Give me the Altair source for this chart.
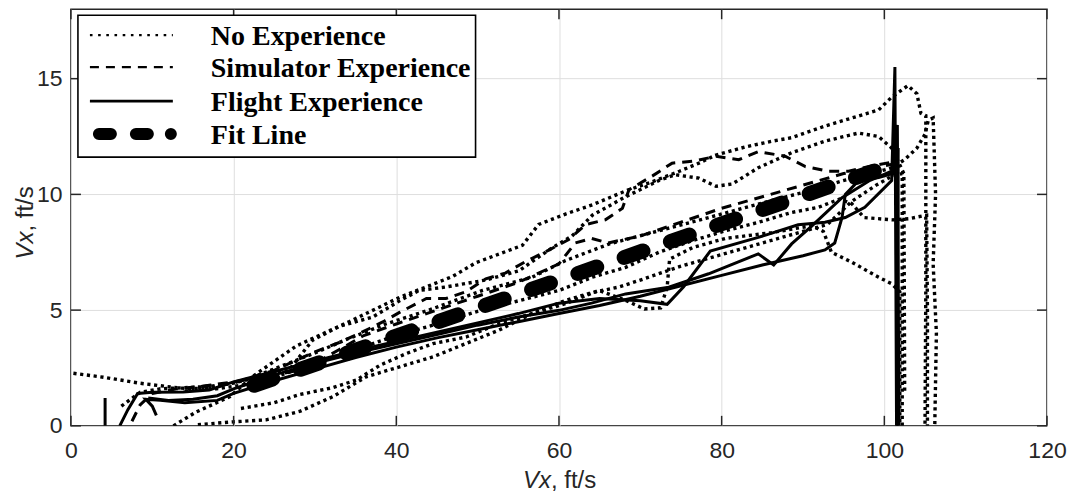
import altair as alt
import pandas as pd

# ---------------- data ----------------
X_TICKS = [0, 20, 40, 60, 80, 100, 120]
Y_TICKS = [0, 5, 10, 15]
LEGEND_LABELS = ["No Experience", "Simulator Experience", "Flight Experience", "Fit Line"]

# No Experience (dotted)
NOEXP_A_X = [12.6, 15.4, 19.5, 22.4, 27.7, 34.2, 40.4, 46.9, 49.8, 55.5, 57.5, 60.8, 64.1, 68.2, 71.5, 74.8, 77.2, 79.3, 82.9, 86.2, 88.6, 92.7, 96.0, 99.3, 100.9, 102.9, 104.0, 104.5, 105.1, 105.1, 105.0]
NOEXP_A_Y = [0.0, 0.6, 1.25, 2.15, 3.45, 4.5, 5.55, 6.45, 7.05, 7.8, 8.7, 9.15, 9.55, 10.15, 10.55, 11.0, 11.35, 11.7, 12.05, 12.3, 12.45, 12.95, 13.3, 13.65, 14.2, 14.7, 14.35, 13.5, 13.4, 6.0, 0.0]
NOEXP_B_X = [6.2, 8.5, 11.0, 14.0, 17.0, 20.0, 23.0, 26.9, 29.7, 33.0, 37.1, 40.4, 42.8, 46.1, 51.0, 55.1, 56.7, 59.2, 61.6, 64.1, 68.2, 72.3, 74.3, 77.2, 79.3, 81.3, 84.5, 88.6, 92.7, 96.8, 99.3, 100.9, 102.0, 102.4, 102.5]
NOEXP_B_Y = [0.85, 1.45, 1.6, 1.65, 1.7, 1.85, 2.1, 2.45, 3.7, 4.3, 4.7, 5.4, 5.85, 6.0, 6.3, 6.7, 7.1, 7.7, 8.2, 9.1, 9.9, 10.6, 10.85, 10.7, 10.35, 10.45, 11.15, 11.8, 12.3, 12.65, 12.5, 12.0, 11.2, 10.9, 1.4]
NOEXP_C_X = [0.3, 4.0, 8.5, 13.4, 17.9, 21.0, 25.0, 30.0, 35.0, 40.0, 45.0, 50.0, 55.0, 60.0, 64.1, 68.2, 72.3, 76.4, 80.5, 84.5, 88.6, 91.9, 94.5, 96.0, 97.5, 101.0, 103.0, 105.2, 105.3, 105.3]
NOEXP_C_Y = [2.27, 2.1, 1.84, 1.63, 1.6, 1.75, 2.1, 2.7, 3.3, 3.9, 4.4, 4.95, 5.4, 5.85, 6.42, 6.85, 7.5, 8.0, 8.43, 8.79, 9.22, 9.44, 9.8, 9.6, 9.0, 8.9, 8.95, 9.1, 5.0, 0.0]
NOEXP_D_X = [14.0, 18.0, 22.0, 26.0, 30.0, 34.0, 38.7, 44.0, 50.6, 56.7, 60.8, 66.2, 72.3, 78.4, 84.5, 90.7, 94.8, 98.9, 100.9, 102.5, 104.0, 105.0, 105.4, 106.0, 106.3, 106.0, 106.4, 106.2]
NOEXP_D_Y = [1.5, 1.7, 2.05, 2.6, 3.15, 3.75, 4.4, 5.0, 5.85, 6.42, 7.14, 7.86, 8.43, 9.0, 9.58, 10.15, 10.58, 10.94, 11.15, 11.5, 12.0, 12.6, 13.2, 13.3, 10.0, 7.0, 4.0, 0.0]
NOEXP_E_X = [20.9, 25.0, 28.1, 32.2, 35.1, 38.0, 41.2, 44.5, 48.6, 52.6, 56.7, 60.8, 64.9, 68.0, 70.5, 72.5, 73.3, 73.6, 76.4, 80.5, 86.2, 91.1, 92.5, 93.5, 96.0, 99.3, 100.9, 101.9, 101.9]
NOEXP_E_Y = [0.75, 1.0, 1.35, 1.65, 1.98, 2.62, 3.12, 3.55, 3.84, 4.42, 4.85, 5.28, 5.85, 5.45, 5.05, 5.1, 6.0, 7.2, 7.7, 8.1, 8.35, 8.65, 8.4, 7.5, 7.07, 6.42, 6.14, 5.8, 0.0]
NOEXP_F_X = [15.6, 19.9, 24.0, 28.1, 32.2, 36.3, 40.4, 44.5, 48.6, 52.6, 56.7, 60.8, 64.0, 67.4, 70.0, 75.0, 80.0, 85.0, 90.0, 93.0, 96.0, 99.0, 101.0, 102.2, 102.2]
NOEXP_F_Y = [0.05, 0.17, 0.26, 0.62, 1.26, 2.12, 2.55, 2.98, 3.56, 4.13, 4.85, 5.42, 5.75, 6.0, 6.3, 6.9, 7.4, 7.9, 8.4, 8.7, 9.7, 10.4, 10.8, 10.9, 0.0]

# Simulator Experience (dashed)
SIM_A_X = [7.5, 8.5, 10.0, 13.0, 16.0, 20.0, 25.0, 30.0, 33.0, 35.5, 38.4, 40.4, 43.7, 46.1, 48.6, 51.0, 53.4, 55.9, 58.8, 61.2, 63.3, 65.7, 67.8, 68.6, 71.5, 73.9, 76.8, 79.3, 82.1, 84.5, 87.8, 90.3, 93.1, 95.6, 98.0, 101.0]
SIM_A_Y = [0.2, 0.9, 1.4, 1.6, 1.7, 1.85, 2.4, 3.2, 3.6, 4.0, 4.5, 4.9, 5.5, 5.5, 5.8, 6.35, 6.6, 7.1, 7.6, 8.05, 8.7, 8.9, 9.4, 10.2, 10.8, 11.35, 11.45, 11.65, 11.5, 11.85, 11.65, 11.2, 11.0, 11.0, 11.2, 11.4]
SIM_B_X = [16.0, 20.0, 25.0, 28.0, 30.0, 33.0, 36.0, 40.0, 45.0, 50.0, 55.0, 60.0, 62.0, 64.0, 66.0, 70.0, 75.0, 80.0, 85.0, 90.0, 95.0, 101.0]
SIM_B_Y = [1.7, 1.9, 2.2, 2.4, 2.7, 3.3, 3.9, 4.4, 5.0, 5.6, 6.2, 7.0, 7.9, 8.1, 7.9, 8.2, 8.8, 9.4, 9.9, 10.4, 10.9, 11.3]

# Flight Experience (solid)
FLT_A_X = [4.2, 4.2]
FLT_A_Y = [0.0, 1.2]
FLT_B_X = [6.0, 7.0, 8.2, 10.0, 13.8, 17.0, 20.0, 25.0, 30.0, 35.0, 40.0, 45.0, 50.0, 55.0, 60.0, 65.0, 70.0, 73.3, 75.3, 78.6, 84.5, 89.4, 92.7, 95.2, 97.6, 100.9, 101.3, 101.5]
FLT_B_Y = [0.0, 0.7, 1.4, 1.45, 1.46, 1.55, 1.9, 2.35, 2.8, 3.25, 3.65, 4.05, 4.45, 4.85, 5.3, 5.5, 5.4, 5.25, 6.0, 7.55, 8.14, 8.69, 8.8, 9.0, 9.44, 10.6, 15.5, 0.0]
FLT_C_X = [9.5, 12.0, 15.0, 18.0, 20.0, 25.0, 30.0, 35.0, 40.0, 45.0, 50.0, 55.0, 60.0, 64.0, 68.2, 73.5, 78.4, 84.5, 86.4, 88.6, 91.1, 94.8, 98.1, 100.9, 101.6, 101.8]
FLT_C_Y = [1.2, 1.1, 1.15, 1.3, 1.6, 2.2, 2.7, 3.15, 3.55, 3.95, 4.35, 4.7, 4.99, 5.3, 5.7, 5.99, 6.57, 7.43, 6.95, 7.86, 8.64, 9.86, 10.58, 11.0, 13.0, 0.0]
FLT_D_X = [10.5, 10.0, 9.2, 11.0, 14.0, 18.0, 20.0, 25.0, 30.0, 35.0, 40.0, 45.0, 50.0, 55.0, 60.0, 65.0, 70.0, 75.0, 80.0, 85.0, 90.0, 92.7, 93.9, 94.8, 95.2, 96.8, 99.3, 101.0, 101.7, 101.6]
FLT_D_Y = [0.45, 0.85, 1.15, 1.1, 1.0, 1.1, 1.4, 1.95, 2.45, 2.95, 3.4, 3.8, 4.15, 4.5, 4.85, 5.2, 5.6, 6.05, 6.5, 6.95, 7.35, 7.6, 7.9, 9.0, 10.0, 10.58, 10.73, 10.9, 12.0, 0.0]

# Fit line
FIT_X = [22.5, 102.0]
FIT_Y = [1.75, 11.4]

# ---------------- chart ----------------
W, H = 977, 417
AX = "#262626"
FONT = "Liberation Sans"


def frame(curves):
    rows = []
    for name, xs, ys in curves:
        for i, (xv, yv) in enumerate(zip(xs, ys)):
            rows.append({"x": xv, "y": yv, "curve": name, "i": i})
    return pd.DataFrame(rows)


noexp = frame([("A", NOEXP_A_X, NOEXP_A_Y), ("B", NOEXP_B_X, NOEXP_B_Y),
               ("C", NOEXP_C_X, NOEXP_C_Y), ("D", NOEXP_D_X, NOEXP_D_Y),
               ("E", NOEXP_E_X, NOEXP_E_Y), ("F", NOEXP_F_X, NOEXP_F_Y)])
sim = frame([("A", SIM_A_X, SIM_A_Y), ("B", SIM_B_X, SIM_B_Y)])
flt = frame([("A", FLT_A_X, FLT_A_Y), ("B", FLT_B_X, FLT_B_Y),
             ("C", FLT_C_X, FLT_C_Y), ("D", FLT_D_X, FLT_D_Y)])
fit = frame([("fit", FIT_X, FIT_Y)])

xscale = alt.Scale(domain=[0, 120], nice=False, zero=False)
yscale = alt.Scale(domain=[0, 18], nice=False, zero=False)

xaxis = alt.Axis(values=X_TICKS, grid=True, gridColor="#dedede", gridWidth=1,
                 ticks=False, tickSize=0, domain=False, labelFont=FONT,
                 labelFontSize=23, labelColor=AX, labelPadding=14,
                 labelFlush=False, title=None)
yaxis = alt.Axis(values=Y_TICKS, grid=True, gridColor="#dedede", gridWidth=1,
                 ticks=False, tickSize=0, domain=False, labelFont=FONT,
                 labelFontSize=23, labelColor=AX, labelPadding=9,
                 labelFlush=False, title=None)

X = alt.X("x:Q", scale=xscale, axis=xaxis)
Y = alt.Y("y:Q", scale=yscale, axis=yaxis)


def lines(df, width, dash=None, cap="butt"):
    kw = dict(color="black", strokeWidth=width, strokeCap=cap, clip=True)
    if dash:
        kw["strokeDash"] = dash
    return alt.Chart(df).mark_line(**kw).encode(x=X, y=Y, detail="curve:N", order="i:Q")


layers = [
    lines(noexp, 3.4, [3.2, 3.6]),
    lines(sim, 3, [10, 7]),
    lines(flt, 3),
    lines(fit, 15, [20, 29], cap="round"),
]

xt = pd.DataFrame({"x": X_TICKS})
yt = pd.DataFrame({"y": Y_TICKS})
tick = dict(color=AX, strokeWidth=1.5)
layers += [
    alt.Chart(xt).mark_rule(**tick).encode(x=X, y=alt.value(H), y2=alt.value(H - 10)),
    alt.Chart(xt).mark_rule(**tick).encode(x=X, y=alt.value(0), y2=alt.value(10)),
    alt.Chart(yt).mark_rule(**tick).encode(y=Y, x=alt.value(0), x2=alt.value(10)),
    alt.Chart(yt).mark_rule(**tick).encode(y=Y, x=alt.value(W), x2=alt.value(W - 10)),
]

# legend
one = pd.DataFrame({"a": [0]})
layers.append(alt.Chart(one).mark_rect(fill="white", stroke="black", strokeWidth=1.6).encode(
    x=alt.value(7), x2=alt.value(405), y=alt.value(6), y2=alt.value(148)))
row_y = [26, 58, 92, 125]
samples = [
    dict(strokeWidth=2.2, strokeDash=[2.6, 5.6]),
    dict(strokeWidth=2.4, strokeDash=[9, 7]),
    dict(strokeWidth=2.8),
    dict(strokeWidth=12, strokeDash=[12, 25, 12, 23, 0.01, 40], strokeCap="round"),
]
for k, (lab, yy, st) in enumerate(zip(LEGEND_LABELS, row_y, samples)):
    x0, x1 = (28, 101) if k == 3 else (19, 102)
    layers.append(alt.Chart(one).mark_rule(color="black", **st).encode(
        x=alt.value(x0), x2=alt.value(x1), y=alt.value(yy)))
    layers.append(alt.Chart(pd.DataFrame({"label": [lab]})).mark_text(
        align="left", baseline="alphabetic", font="Liberation Serif", fontWeight="bold",
        fontSize=28, color="black").encode(
        x=alt.value(140), y=alt.value(yy + 9.5), text="label:N"))

# axis titles (italic symbol + upright unit)
tstyle = dict(font=FONT, fontSize=24, color=AX)
xj = W / 2 - 36 + 28
layers += [
    alt.Chart(pd.DataFrame({"t": ["Vx"]})).mark_text(align="right", baseline="alphabetic",
        fontStyle="italic", **tstyle).encode(x=alt.value(xj), y=alt.value(479), text="t:N"),
    alt.Chart(pd.DataFrame({"t": [", ft/s"]})).mark_text(align="left", baseline="alphabetic",
        **tstyle).encode(x=alt.value(xj), y=alt.value(479), text="t:N"),
]
yj = H / 2 + 36 - 28 + 6
layers += [
    alt.Chart(pd.DataFrame({"t": ["Vx"]})).mark_text(align="right", baseline="alphabetic",
        angle=270, fontStyle="italic", **tstyle).encode(x=alt.value(-38), y=alt.value(yj), text="t:N"),
    alt.Chart(pd.DataFrame({"t": [", ft/s"]})).mark_text(align="left", baseline="alphabetic",
        angle=270, **tstyle).encode(x=alt.value(-38), y=alt.value(yj), text="t:N"),
]

chart = alt.layer(*layers).properties(
    width=W, height=H,
    autosize=alt.AutoSizeParams(type="none"),
    padding={"left": 63, "top": 1, "right": 20, "bottom": 70},
    background="white",
).configure_view(stroke=AX, strokeWidth=1.5)

chart.save("out.html", embed_options={"renderer": "svg", "actions": False})
